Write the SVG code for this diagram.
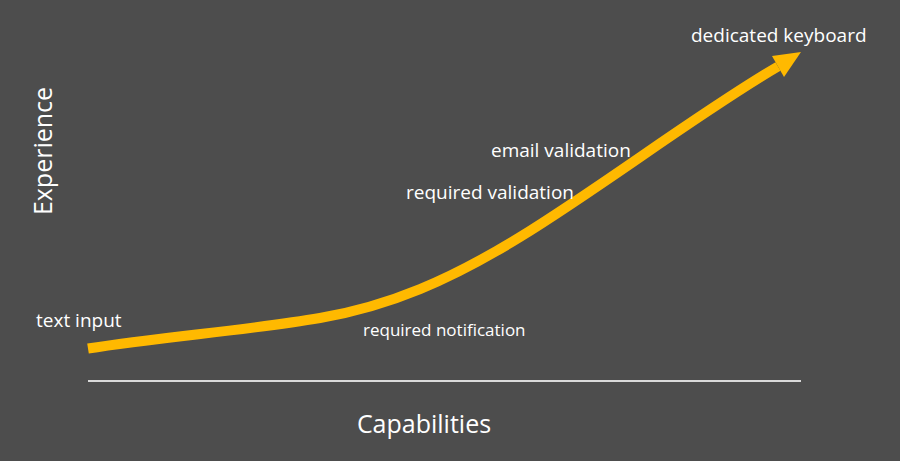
<svg xmlns="http://www.w3.org/2000/svg" width="900" height="461" viewBox="0 0 900 461">
  <style>
    .lbl { font-family: "Open Sans", "Noto Sans", "Liberation Sans", sans-serif; font-size: 19px; fill: #ffffff; }
    .lbl-sm { font-family: "Open Sans", "Noto Sans", "Liberation Sans", sans-serif; font-size: 17px; fill: #ffffff; }
    .axis-title { font-family: "Open Sans", "Noto Sans", "Liberation Sans", sans-serif; font-size: 25px; fill: #ffffff; }
    .curve { fill: none; stroke: #ffb900; stroke-width: 10; stroke-linecap: butt; }
    .axis { stroke: #d9d9d9; stroke-width: 2; }
  </style>
  <rect x="0" y="0" width="900" height="461" fill="#4d4d4d"/>

  <g id="axes">
    <line class="axis" x1="88" y1="381" x2="801" y2="381"/>
    <text class="axis-title" x="424" y="433" text-anchor="middle">Capabilities</text>
    <text class="axis-title" transform="translate(52,151) rotate(-90)" text-anchor="middle">Experience</text>
  </g>

  <g id="connectors">
    <path class="curve" d="M88,348.5 C160,337 250,330 320,318 C390,306 450,280 520,237 C600,188 700,112 778,66.5"/>
    <polygon points="801,52 772,56 784,77" fill="#ffb900"/>
  </g>

  <g id="node-text-input"><text class="lbl" x="36" y="327">text input</text></g>
  <g id="node-required-notification"><text class="lbl-sm" x="363" y="336">required notification</text></g>
  <g id="node-required-validation"><text class="lbl" x="406" y="199">required validation</text></g>
  <g id="node-email-validation"><text class="lbl" x="491" y="157">email validation</text></g>
  <g id="node-dedicated-keyboard"><text class="lbl" x="691" y="42">dedicated keyboard</text></g>
</svg>
